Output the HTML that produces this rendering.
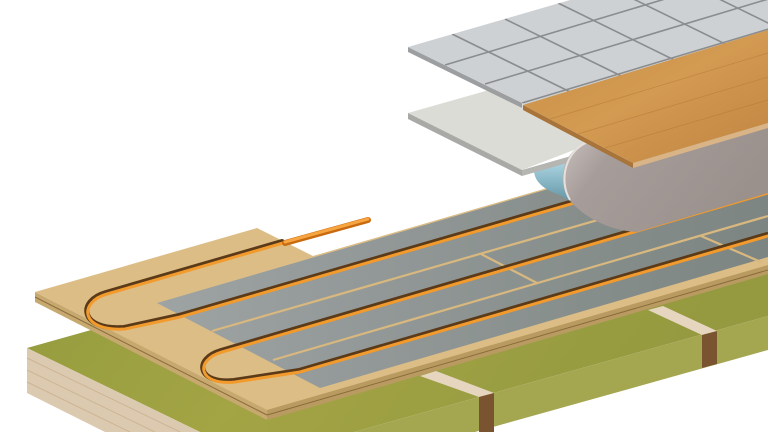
<!DOCTYPE html>
<html><head><meta charset="utf-8"><style>html,body{margin:0;padding:0;background:#fff}svg{display:block}</style></head>
<body>
<svg width="768" height="432" viewBox="0 0 768 432" xmlns="http://www.w3.org/2000/svg">
<defs>
<linearGradient id="gt" x1="0" y1="0" x2="1" y2="0.3"><stop offset="0" stop-color="#8f9a3c"/><stop offset="0.5" stop-color="#a3a444"/><stop offset="1" stop-color="#959a40"/></linearGradient>
<linearGradient id="met" x1="0" y1="0" x2="1" y2="0"><stop offset="0" stop-color="#9ea3a3"/><stop offset="1" stop-color="#7c8582"/></linearGradient>
<linearGradient id="mem" x1="0" y1="0" x2="1" y2="0.4"><stop offset="0" stop-color="#cfc8c5"/><stop offset="0.3" stop-color="#a69c99"/><stop offset="1" stop-color="#9a908c"/></linearGradient>
<linearGradient id="wood" x1="0" y1="0" x2="1" y2="1"><stop offset="0" stop-color="#c98f45"/><stop offset="0.5" stop-color="#d39a52"/><stop offset="1" stop-color="#c08440"/></linearGradient>
<linearGradient id="film" x1="0" y1="0" x2="0" y2="1"><stop offset="0" stop-color="#b3dbe8"/><stop offset="1" stop-color="#5b8fa0"/></linearGradient>
<clipPath id="tc"><polygon points="408,47 570,0 768,0 768,100 600,141"/></clipPath>
</defs>
<!-- base -->
<polygon points="27,348 768,140 768,316 354,432 200,432" fill="url(#gt)"/>
<polygon points="354,432 768,316 768,350 475,432" fill="#a5a650"/>
<polygon points="27,348 200,432 105,432 27,393" fill="#dccab0"/>
<g stroke="#c9b08e" stroke-width="1" opacity="0.8"><line x1="27" y1="358" x2="180" y2="432"/><line x1="27" y1="370" x2="155" y2="432"/><line x1="27" y1="382" x2="130" y2="432"/></g>
<polygon points="420,376 436,371 494,393 479,397" fill="#e6d6bf"/>
<polygon points="479,397 494,393 494,432 479,432" fill="#7a5430"/>
<polygon points="648,310 663,306 717,331 702,335" fill="#e6d6bf"/>
<polygon points="702,335 717,331 717,364 702,368" fill="#7a5430"/>
<!-- board -->
<polygon points="35,292 267,410 267,420 35,302" fill="#c7a970"/>
<polygon points="267,410 768,265 768,274 267,420" fill="#b99b62"/>
<line x1="35" y1="297" x2="267" y2="415" stroke="#8a6c3a" stroke-width="1"/>
<line x1="267" y1="415" x2="768" y2="270" stroke="#8a6c3a" stroke-width="1"/>
<polygon points="35,292 257,228 313,256 768,124 768,265 267,410" fill="#dcbd86"/>
<!-- metal -->
<polygon points="157,303 768,125 768,257 320,388" fill="url(#met)"/>
<!-- gaps -->
<g stroke="#d8b87e" stroke-width="2.2" fill="none">
<line x1="212" y1="331" x2="768" y2="171"/>
<line x1="273" y1="360" x2="768" y2="216"/>
<line x1="481" y1="254" x2="537" y2="283"/>
<line x1="701" y1="236" x2="761" y2="262"/>
</g>
<!-- pipes -->
<g fill="none" stroke-linecap="round">
<path d="M283,243 L107,294 C78,302 80,332 125,329 L180,317 L768,147" stroke="#5a3a18" stroke-width="5" transform="translate(-1,-1.5)"/>
<path d="M283,243 L107,294 C78,302 80,332 125,329 L180,317 L768,147" stroke="#f29a2c" stroke-width="3"/>
<path d="M768,193 L222,352 C194,360 198,386 235,382 L300,372 L768,236" stroke="#5a3a18" stroke-width="5" transform="translate(-1,-1.5)"/>
<path d="M768,193 L222,352 C194,360 198,386 235,382 L300,372 L768,236" stroke="#f29a2c" stroke-width="3"/>
<line x1="285" y1="243" x2="368" y2="220" stroke="#c86a10" stroke-width="6"/>
<line x1="285" y1="242" x2="368" y2="219" stroke="#f7a540" stroke-width="3"/>
</g>
<!-- film -->
<path d="M534,168 C533,182 545,190 560,195 L578,206 L592,158 L560,160 Z" fill="url(#film)"/>
<!-- cement board -->
<polygon points="408,113 560,70 600,140 522,170" fill="#dcdcd6"/>
<polygon points="408,113 522,170 522,176 408,119" fill="#a9aaa6"/>
<polygon points="522,170 592,150 592,156 522,176" fill="#b5b6b2"/>
<!-- membrane -->
<path d="M588,142 C562,150 553,186 575,206 C592,222 615,231 637,232 L768,193 L768,123 L633,163 Z" fill="url(#mem)"/>
<path d="M588,142 C566,150 558,180 570,200" fill="none" stroke="#e6e0dc" stroke-width="2"/>
<!-- tiles -->
<polygon points="408,47 522,103 522,108 408,52" fill="#9c9ea0"/>
<polygon points="408,47 570,0 768,0 768,100 600,141" fill="#cdd1d4"/>
<g clip-path="url(#tc)" stroke="#8a8c8e" stroke-width="1.6">
<line x1="445" y1="65" x2="845" y2="-55"/>
<line x1="485" y1="84" x2="885" y2="-36"/>
<line x1="522" y1="103" x2="922" y2="-17"/>
<line x1="560" y1="122" x2="960" y2="2"/>
<line x1="598" y1="141" x2="998" y2="21"/>
<line x1="452" y1="34" x2="652" y2="132"/>
<line x1="505" y1="19" x2="705" y2="117"/>
<line x1="558" y1="3" x2="758" y2="101"/>
<line x1="611" y1="-12" x2="811" y2="86"/>
<line x1="664" y1="-28" x2="864" y2="70"/>
<line x1="717" y1="-43" x2="917" y2="55"/>
</g>
<!-- wood board -->
<polygon points="523,105 633,163 633,168 523,110" fill="#a8743a"/>
<polygon points="633,163 768,123 768,128 633,168" fill="#d9b486"/>
<polygon points="523,105 768,30 768,123 633,163" fill="url(#wood)"/>
<g stroke="#b57a38" stroke-width="0.8" opacity="0.6">
<line x1="550" y1="119" x2="768" y2="53"/><line x1="578" y1="134" x2="768" y2="77"/><line x1="605" y1="148" x2="768" y2="100"/>
</g>
</svg>
</body></html>
